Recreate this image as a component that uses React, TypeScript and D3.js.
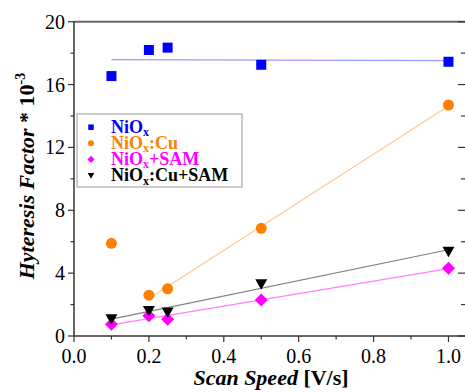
import React from "react";
import * as d3 from "d3";

const speeds = [0.1, 0.2, 0.25, 0.5, 1.0];
const niox = [16.54, 18.2, 18.35, 17.26, 17.45];
const nioxCu = [5.9, 2.6, 3.0, 6.85, 14.7];
const nioxSam = [0.74, 1.29, 1.06, 2.29, 4.31];
const nioxCuSam = [1.1, 1.62, 1.52, 3.33, 5.4];
const xTicks = [0, 0.2, 0.4, 0.6, 0.8, 1.0];
const yTicks = [0, 4, 8, 12, 16, 20];

const W = 465, H = 392;
const x = d3.scaleLinear().domain([0, 1.05]).range([74, 467.2]);
const y = d3.scaleLinear().domain([0, 20]).range([336, 21.7]);

function fit(xs: number[], ys: number[]) {
  const mx = d3.mean(xs)!, my = d3.mean(ys)!;
  let sxy = 0, sxx = 0;
  xs.forEach((v, i) => { sxy += (v - mx) * (ys[i] - my); sxx += (v - mx) ** 2; });
  const b = sxy / sxx;
  return { a: my - b * mx, b };
}

type S = { name: string; ys: number[]; color: string; lineColor: string; shape: string; fitIdx: number[] };
const series: S[] = [
  { name: "NiOx", ys: niox, color: "#0000ff", lineColor: "#9a9aff", shape: "square", fitIdx: [0, 1, 2, 3, 4] },
  { name: "NiOx:Cu", ys: nioxCu, color: "#ff8000", lineColor: "#ffc890", shape: "circle", fitIdx: [1, 2, 3, 4] },
  { name: "NiOx+SAM", ys: nioxSam, color: "#ff00ff", lineColor: "#ff80ff", shape: "diamond", fitIdx: [0, 1, 2, 3, 4] },
  { name: "NiOx:Cu+SAM", ys: nioxCuSam, color: "#000000", lineColor: "#808080", shape: "tri", fitIdx: [0, 1, 2, 3, 4] },
];
const legendSuffix = ["", ":Cu", "+SAM", ":Cu+SAM"];

function Marker({ shape, cx, cy, color, s = 1 }: any) {
  if (shape === "square") return <rect x={cx - 5 * s} y={cy - 5 * s} width={10 * s} height={10 * s} fill={color} />;
  if (shape === "circle") return <circle cx={cx} cy={cy} r={5.5 * s} fill={color} />;
  if (shape === "diamond") return <path d={`M${cx},${cy - 6.5 * s}L${cx + 6.5 * s},${cy}L${cx},${cy + 6.5 * s}L${cx - 6.5 * s},${cy}Z`} fill={color} />;
  return <path d={`M${cx - 6 * s},${cy - 4.5 * s}L${cx + 6 * s},${cy - 4.5 * s}L${cx},${cy + 6 * s}Z`} fill={color} />;
}

export default function App() {
  const font = "'Liberation Serif', 'Times New Roman', serif";
  const minorY = d3.range(2, 20, 4);
  const minorX = d3.range(0.1, 1.05, 0.2);
  return (
    <svg width={W} height={H} style={{ position: "absolute", left: 0, top: 0, background: "#fff" }} fontFamily={font}>
      {/* frame */}
      <line x1={74} x2={W} y1={y(20)} y2={y(20)} stroke="#666" strokeWidth={2} />
      <line x1={74} x2={74} y1={y(20)} y2={y(0)} stroke="#333" strokeWidth={1.5} />
      <line x1={74} x2={W} y1={y(0)} y2={y(0)} stroke="#333" strokeWidth={1.5} />
      {/* y ticks */}
      {yTicks.map(t => (
        <g key={"y" + t}>
          <line x1={68} x2={74} y1={y(t)} y2={y(t)} stroke="#333" strokeWidth={1.2} />
          <line x1={458} x2={465} y1={y(t)} y2={y(t)} stroke="#333" strokeWidth={1.2} />
          <text x={65} y={y(t)} dy="0.35em" textAnchor="end" fontSize={20}>{t}</text>
        </g>
      ))}
      {minorY.map(t => (
        <g key={"ym" + t}>
          <line x1={70.5} x2={74} y1={y(t)} y2={y(t)} stroke="#333" strokeWidth={1.2} />
          <line x1={461} x2={465} y1={y(t)} y2={y(t)} stroke="#333" strokeWidth={1.2} />
        </g>
      ))}
      {xTicks.map(t => (
        <g key={"x" + t}>
          <line x1={x(t)} x2={x(t)} y1={y(0)} y2={y(0) + 6} stroke="#333" strokeWidth={1.2} />
          <text x={x(t)} y={y(0) + 27} textAnchor="middle" fontSize={20}>{t.toFixed(1)}</text>
        </g>
      ))}
      {minorX.map(t => (
        <line key={"xm" + t} x1={x(t)} x2={x(t)} y1={y(0)} y2={y(0) + 3.5} stroke="#333" strokeWidth={1.2} />
      ))}
      {/* fit lines */}
      {series.map(s => {
        const xs = s.fitIdx.map(i => speeds[i]);
        const ys = s.fitIdx.map(i => s.ys[i]);
        const f = fit(xs, ys);
        const x0 = d3.min(xs)!, x1 = d3.max(xs)!;
        return <line key={"f" + s.name} x1={x(x0)} x2={x(x1)} y1={y(f.a + f.b * x0)} y2={y(f.a + f.b * x1)} stroke={s.lineColor} strokeWidth={1.2} />;
      })}
      {/* markers */}
      {series.map(s => s.ys.map((v, i) => (
        <Marker key={s.name + i} shape={s.shape} cx={x(speeds[i])} cy={y(v)} color={s.color} />
      )))}
      {/* legend */}
      <rect x={77} y={114} width={165} height={73} fill="#fff" stroke="#999" strokeWidth={1} />
      {series.map((s, i) => {
        const base = 132.7 + i * 16.1;
        return (
          <g key={"l" + i}>
            <Marker shape={s.shape} cx={91} cy={base - 5.5} color={s.color} s={0.55} />
            <text x={111} y={base} fontSize={18} fontWeight="bold" fill={s.color}>
              NiO<tspan fontSize={12} dy={3.5}>x</tspan><tspan dy={-3.5}>{legendSuffix[i]}</tspan>
            </text>
          </g>
        );
      })}
      {/* axis titles */}
      <text x={271} y={385} textAnchor="middle" fontSize={22} fontWeight="bold">
        <tspan fontStyle="italic">Scan Speed</tspan> [V/s]
      </text>
      <text transform="translate(34,176) rotate(-90)" textAnchor="middle" fontSize={22} fontWeight="bold">
        <tspan fontStyle="italic">Hyteresis Factor</tspan> * 10<tspan fontSize={14} dy={-9}>-3</tspan>
      </text>
    </svg>
  );
}
